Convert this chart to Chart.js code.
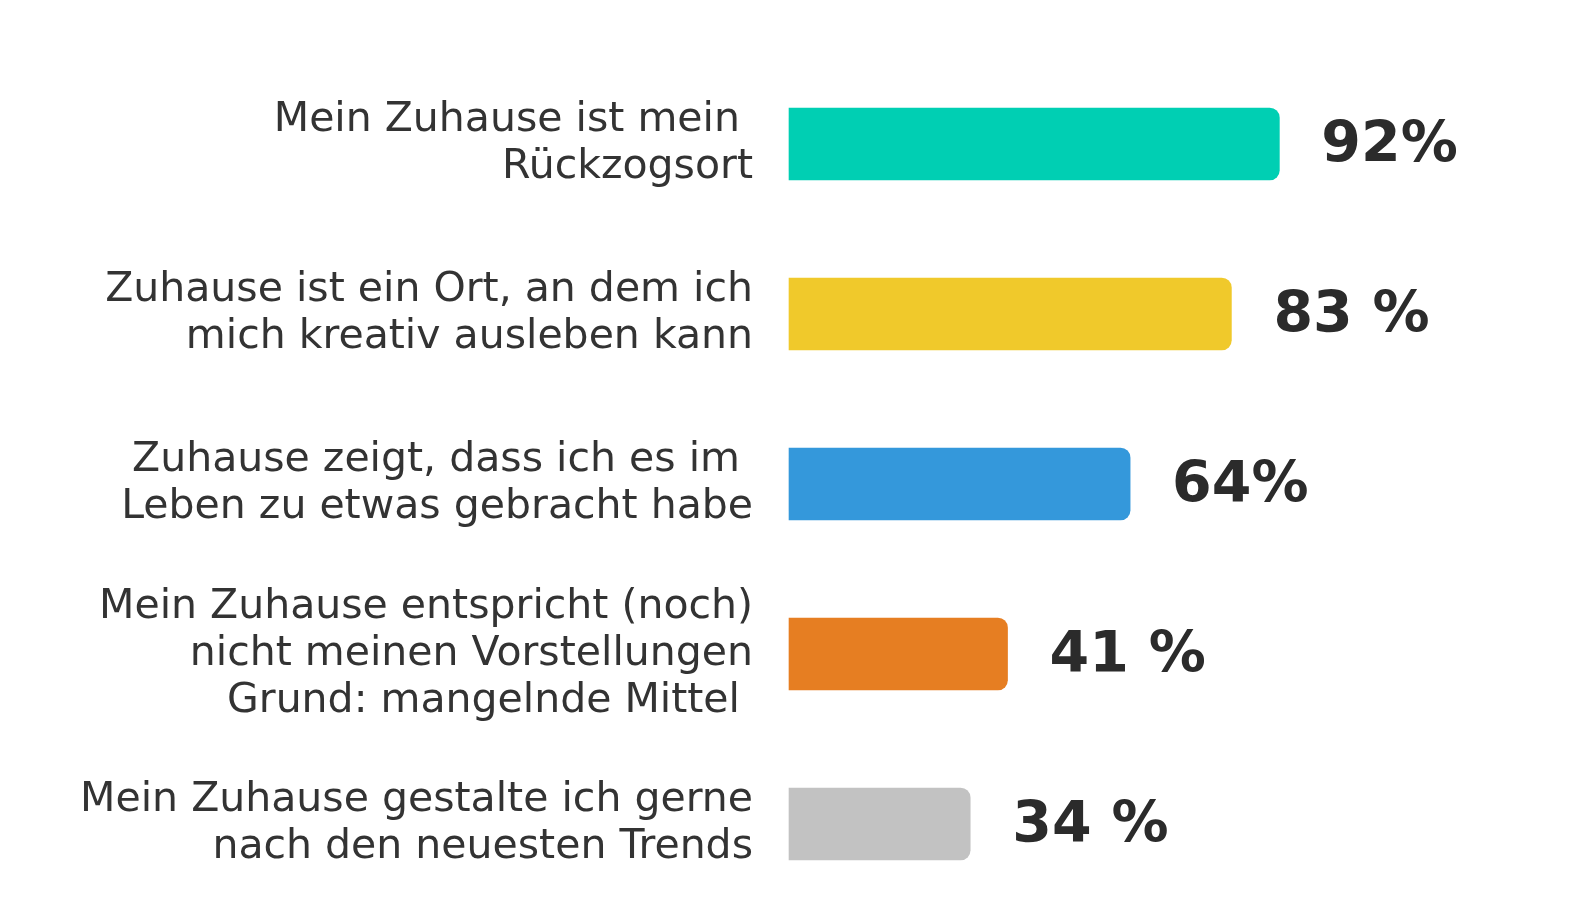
<!DOCTYPE html>
<html lang="de">
<head>
<meta charset="utf-8">
<title>Zuhause</title>
<script src="https://cdn.jsdelivr.net/npm/chart.js@4.4.1/dist/chart.umd.min.js"></script>
<style>
  html, body { margin: 0; padding: 0; background: #ffffff; }
  #wrap { width: 1596px; height: 900px; position: relative; }
</style>
</head>
<body>
<div id="wrap"><canvas id="homeChart"></canvas></div>
<script>
// Aussagen (mehrzeilig wie im Original)
const categories = [
    ['Mein Zuhause ist mein ', 'Rückzogsort'],
    ['Zuhause ist ein Ort, an dem ich', 'mich kreativ ausleben kann'],
    ['Zuhause zeigt, dass ich es im ', 'Leben zu etwas gebracht habe'],
    ['Mein Zuhause entspricht (noch)', 'nicht meinen Vorstellungen', 'Grund: mangelnde Mittel '],
    ['Mein Zuhause gestalte ich gerne', 'nach den neuesten Trends']
];
const values = [92, 83, 64, 41, 34];
const valueLabels = ['92%', '83 %', '64%', '41 %', '34 %'];
const barColors = ['#00cfb3', '#f0c92b', '#3498db', '#e67e22', '#c2c2c2'];

const labelFont = '"DejaVu Sans", "Open Sans", sans-serif';

// Prozentwerte rechts neben den Balken
const valueLabelPlugin = {
    id: 'valueLabels',
    afterDatasetsDraw(chart) {
        const ctx = chart.ctx;
        const meta = chart.getDatasetMeta(0);
        ctx.save();
        ctx.font = 'bold 57px ' + labelFont;
        ctx.fillStyle = '#2b2b2b';
        ctx.textAlign = 'left';
        ctx.textBaseline = 'middle';
        meta.data.forEach(function (bar, i) {
            ctx.fillText(valueLabels[i], bar.x + 42, bar.y + 3);
        });
        ctx.restore();
    }
};

const ctx = document.getElementById('homeChart').getContext('2d');
const homeChart = new Chart(ctx, {
    type: 'bar',
    data: {
        labels: categories,
        datasets: [{
            data: values,
            backgroundColor: barColors,
            barThickness: 72,
            borderRadius: { topRight: 10, bottomRight: 10, topLeft: 0, bottomLeft: 0 },
            borderSkipped: 'start',
            clip: false
        }]
    },
    options: {
        indexAxis: 'y',
        responsive: true,
        maintainAspectRatio: false,
        animation: false,
        layout: {
            padding: { top: 144, bottom: 76, left: 0, right: 274 }
        },
        scales: {
            x: {
                display: false,
                min: 0,
                max: 100
            },
            y: {
                offset: false,
                grid: { display: false },
                border: { display: false },
                ticks: {
                    color: '#333333',
                    padding: 28,
                    font: { family: labelFont, size: 41, lineHeight: 1.15 }
                },
                afterFit(scale) {
                    scale.width = 789; // Balken beginnen bei x = 789
                }
            }
        },
        plugins: {
            legend: { display: false },
            tooltip: { enabled: false }
        }
    },
    plugins: [valueLabelPlugin]
});
</script>
</body>
</html>
